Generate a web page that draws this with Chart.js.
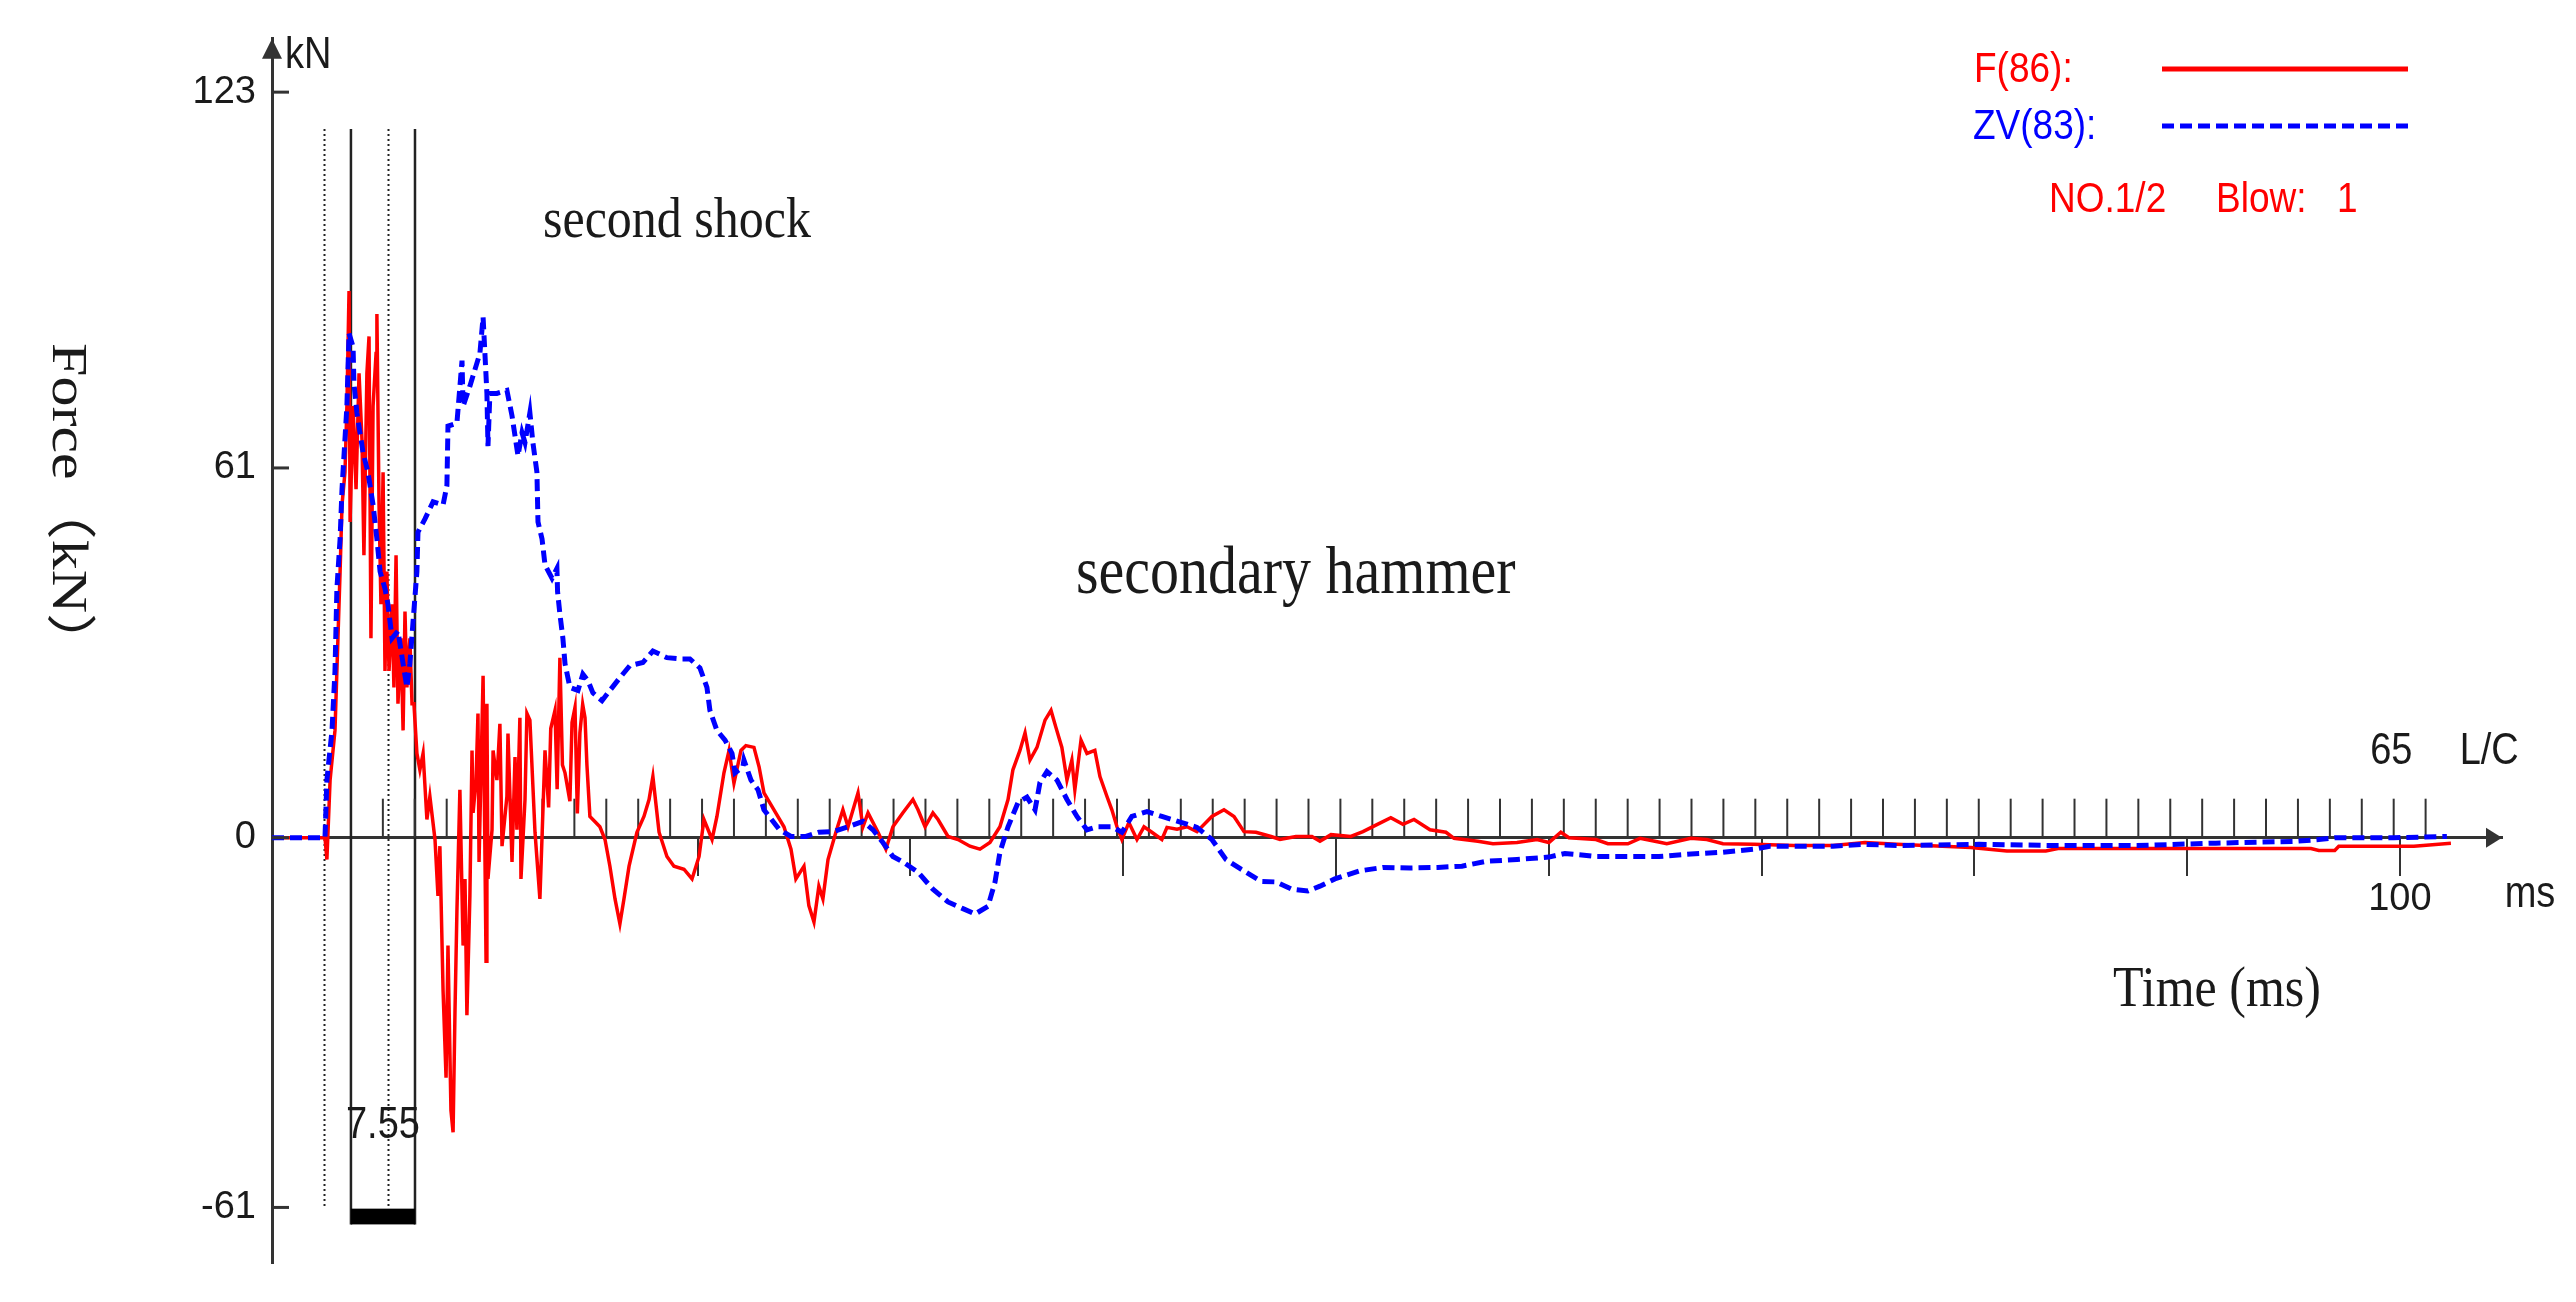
<!DOCTYPE html>
<html>
<head>
<meta charset="utf-8">
<title>Force record</title>
<script src="https://cdn.jsdelivr.net/npm/chart.js@4.4.1/dist/chart.umd.min.js"></script>
<style>
    html, body { margin: 0; padding: 0; background: #ffffff; }
    #wrap { width: 2576px; height: 1302px; position: relative; }
</style>
</head>
<body>
<div id="wrap"><canvas id="forceChart"></canvas></div>
<script>
// F trace (red): time in ms, force in kN
const fTime = [0, 2.49, 2.58, 2.73, 2.96, 3.10, 3.20, 3.29, 3.43, 3.52, 3.62, 3.67, 3.81, 3.95, 4.09, 4.23, 4.32, 4.46, 4.56, 4.65,
    4.75, 4.89, 4.93, 5.03, 5.12, 5.22, 5.31, 5.40, 5.50, 5.64, 5.73, 5.83, 5.92, 6.06, 6.16, 6.25, 6.34, 6.48, 6.58, 6.67,
    6.81, 6.95, 7.10, 7.28, 7.42, 7.66, 7.80, 7.89, 8.04, 8.18, 8.27, 8.41, 8.51, 8.60, 8.69, 8.83, 8.98, 9.07, 9.16, 9.30,
    9.40, 9.45, 9.59, 9.68, 9.73, 9.92, 10.06, 10.10, 10.15, 10.34, 10.39, 10.57, 10.71, 10.81, 11.04, 11.09, 11.28, 11.42, 11.51, 11.65,
    11.70, 11.89, 11.98, 12.12, 12.36, 12.59, 12.83, 13.00, 13.10, 13.30, 13.40, 13.53, 13.65, 13.77, 14.00, 14.10, 14.24, 14.35, 14.47, 14.60,
    14.71, 14.80, 14.94, 15.41, 15.65, 15.88, 16.12, 16.35, 16.54, 16.78, 17.15, 17.48, 17.72, 17.90, 18.19, 18.56, 18.89, 19.36, 19.74, 20.07,
    20.30, 20.68, 20.91, 21.24, 21.48, 21.71, 22.04, 22.27, 22.65, 22.89, 23.12, 23.59, 24.06, 24.39, 24.62, 25.00, 25.23, 25.47, 25.70, 25.89,
    26.13, 26.50, 26.83, 27.07, 27.54, 27.77, 28.01, 28.48, 28.85, 29.18, 29.65, 30.12, 30.36, 30.69, 31.06, 31.30, 31.77, 32.24, 32.80, 33.27,
    33.74, 34.21, 34.59, 34.82, 35.15, 35.39, 35.62, 35.95, 36.33, 36.61, 36.84, 37.12, 37.36, 37.59, 37.73, 38.02, 38.30, 38.67, 38.91, 39.24,
    39.47, 39.71, 39.94, 40.27, 40.65, 40.98, 41.35, 41.82, 42.06, 42.53, 43.00, 43.47, 44.17, 44.74, 45.21, 45.68, 46.24, 46.95, 47.37, 48.12,
    48.87, 49.25, 49.77, 50.70, 51.27, 51.83, 52.58, 53.15, 53.67, 54.42, 55.17, 55.55, 56.67, 57.38, 58.51, 59.45, 60.01, 60.57, 60.95, 62.22,
    62.78, 63.72, 64.29, 64.99, 65.55, 66.68, 67.43, 68.19, 69.64, 71.52, 73.36, 74.86, 76.36, 79.84, 81.53, 83.36, 83.93, 87.64, 95.82, 96.19,
    96.94, 97.13, 100.66, 102.40];
const fForce = [0, 0, -3.6, 9.5, 17.7, 33.0, 43.9, 54.9, 60.3, 71.2, 90.2, 52.1, 71.2, 57.5, 76.6, 65.6, 46.6, 76.6, 82.7, 32.9,
    71.2, 79.9, 86.4, 54.9, 38.5, 60.3, 27.5, 43.9, 27.5, 38.5, 24.8, 46.6, 22.1, 32.9, 17.7, 37.3, 24.8, 32.9, 22.1, 22.1,
    13.9, 11.2, 13.9, 3.0, 6.8, -0.3, -9.6, -1.4, -25.3, -39.6, -17.8, -45.0, -48.6, -28.6, -12.2, 7.9, -17.8, -6.8, -29.3, -9.6,
    14.4, 4.1, 9.5, 20.5, -4.0, 26.7, -20.4, 22.1, -6.8, 1.3, 14.4, 9.5, 18.8, -1.4, 6.8, 17.2, -4.0, 13.3, 1.3, 19.8,
    -6.8, 6.3, 20.5, 19.4, 0.9, -10.1, 14.4, 5.0, 18.0, 21.0, 8.0, 29.7, 12.0, 10.7, 6.0, 19.0, 21.5, 4.0, 17.3, 22.0,
    19.8, 12.0, 3.5, 1.8, -0.3, -4.7, -10.1, -14.2, -10.1, -4.7, 0.9, 3.5, 6.3, 10.1, 0.9, -3.1, -4.7, -5.2, -6.8, -3.1,
    3.0, -0.3, 3.5, 10.7, 14.4, 9.0, 14.4, 15.2, 14.9, 11.7, 7.4, 4.6, 1.8, -1.9, -6.8, -4.7, -11.2, -13.9, -8.0, -10.1,
    -3.6, 0.9, 4.6, 1.8, 7.4, 1.8, 4.1, 0.9, -1.9, 1.8, 4.1, 6.3, 4.6, 1.8, 4.1, 3.0, 0.2, -0.3, -1.4, -1.9,
    -0.8, 1.8, 6.3, 11.2, 14.4, 17.3, 12.8, 14.9, 19.4, 21.0, 18.2, 14.9, 9.5, 12.8, 7.9, 16.1, 13.9, 14.4, 10.1, 6.8,
    4.6, 1.8, -0.3, 2.5, -0.3, 1.8, 0.9, -0.3, 1.7, 1.4, 1.8, 1.0, 3.5, 4.6, 3.5, 1.0, 0.9, 0.2, -0.3, 0.2,
    0.2, -0.6, 0.5, 0.2, 1.0, 2.0, 3.3, 2.2, 3.0, 1.3, 0.9, -0.1, -0.6, -1.0, -0.8, -0.3, -0.8, 0.9, 0, -0.3,
    -1.0, -1.0, -0.1, -0.6, -1.0, -0.1, -0.3, -1.0, -1.1, -1.3, -1.3, -0.8, -1.1, -1.6, -2.2, -2.2, -1.8, -1.8, -1.8, -2.1,
    -2.1, -1.4, -1.4, -0.9];

// ZV trace (blue, dashed): time in ms, velocity times impedance in kN
const zvTime = [0, 2.49, 2.58, 2.82, 2.96, 3.05, 3.20, 3.29, 3.52, 3.62, 3.81, 3.85, 3.99, 4.28, 4.51, 4.75, 4.93, 5.08, 5.31, 5.45,
    5.64, 5.92, 6.16, 6.34, 6.48, 6.63, 6.81, 6.86, 7.19, 7.57, 8.04, 8.22, 8.27, 8.69, 8.93, 8.98, 9.30, 9.77, 9.92, 10.10,
    10.15, 10.24, 10.57, 11.04, 11.28, 11.56, 11.75, 11.89, 12.12, 12.26, 12.45, 12.50, 12.69, 12.83, 13.16, 13.39, 13.42, 13.53, 13.67, 13.77,
    14.00, 14.38, 14.61, 14.85, 15.08, 15.51, 15.88, 16.35, 16.82, 17.43, 17.90, 18.56, 19.17, 19.64, 20.11, 20.44, 20.58, 20.91, 21.29, 21.62,
    21.76, 22.13, 22.18, 22.51, 22.84, 23.12, 23.83, 24.39, 25.09, 25.70, 26.36, 27.07, 27.77, 28.24, 28.71, 29.18, 29.65, 30.36, 31.06, 31.77,
    32.47, 33.04, 33.65, 33.98, 34.21, 34.59, 35.06, 35.48, 35.86, 36.09, 36.42, 36.89, 37.36, 37.83, 38.30, 38.77, 39.47, 39.94, 40.41, 41.12,
    41.82, 42.76, 43.47, 44.17, 44.83, 45.54, 46.48, 47.18, 47.93, 48.68, 49.25, 49.95, 51.08, 52.21, 53.48, 54.79, 55.92, 57.05, 58.51, 60.01,
    60.76, 62.22, 65.18, 66.68, 68.19, 69.64, 70.39, 73.36, 74.86, 76.50, 80.22, 83.93, 87.64, 91.35, 95.07, 96.19, 96.94, 99.72, 102.21];
const zvForce = [0, 0, 9.5, 17.7, 27.5, 41.1, 49.3, 57.5, 71.2, 83.2, 81.0, 75.0, 70.1, 63.5, 60.3, 54.9, 49.3, 43.9, 41.1, 38.5,
    32.9, 34.1, 28.7, 24.8, 28.7, 35.7, 43.9, 50.4, 52.6, 55.4, 54.9, 58.1, 67.9, 68.4, 78.7, 71.2, 74.5, 79.9, 85.9, 73.3,
    64.6, 73.3, 73.3, 73.8, 69.6, 63.0, 66.8, 65.2, 70.1, 65.2, 60.3, 52.1, 49.3, 45.0, 42.8, 44.4, 40.6, 36.9, 32.9, 28.7,
    24.8, 24.3, 27.0, 25.9, 23.9, 22.6, 24.3, 26.4, 28.4, 28.9, 30.8, 29.7, 29.5, 29.5, 28.0, 24.8, 21.0, 17.7, 16.1, 13.9,
    10.7, 11.7, 12.8, 9.5, 7.9, 4.6, 1.4, 0.2, 0.2, 0.9, 1.0, 1.8, 2.7, 1.3, -0.8, -3.1, -4.0, -5.7, -8.5, -10.6,
    -11.7, -12.6, -11.3, -7.3, -2.4, 1.8, 5.8, 6.7, 4.6, 9.1, 10.9, 9.5, 6.3, 3.5, 1.3, 1.8, 1.8, 0.9, 3.5, 4.3,
    3.5, 2.5, 1.7, -0.3, -3.6, -5.2, -7.2, -7.3, -8.5, -8.8, -8.0, -6.8, -5.5, -4.9, -5.0, -4.9, -4.7, -3.9, -3.6, -3.2,
    -2.6, -3.1, -3.1, -2.7, -2.4, -1.9, -1.4, -1.4, -1.1, -1.3, -1.1, -1.3, -1.3, -0.9, -0.6, -0.3, 0, 0, 0.2];

// Axis ticks
const forceTicks = [-61, 0, 61, 123];
const msTicks = [10, 20, 30, 40, 50, 60, 70, 80, 90, 100];
const msLabels = ['', '', '', '', '', '', '', '', '', '100'];

// L/C tick marks above the time axis
const lcStart = 3.71;
const lcStep = 1.5;
const lcCount = 65;

// Marker lines near impact
const dottedMarks = [2.44, 5.45];
const solidMarks = [3.71, 6.72];
const markTop = 116.9;
const dottedBottom = -61.2;
const solidBottom = -63.8;

const sans = '"Liberation Sans", Arial, sans-serif';
const serif = '"Liberation Serif", "Times New Roman", "Noto Sans CJK SC", serif';
const axisColor = '#333333';
const textColor = '#1a1a1a';
// the source picture is a little taller than wide, so text is stretched
const stretch = 1.15;

function toPoints(xs, ys) {
    return xs.map((t, i) => ({ x: t, y: ys[i] }));
}

function drawText(ctx, str, x, y, font, color, align) {
    ctx.save();
    ctx.translate(x, y);
    ctx.scale(1, stretch);
    ctx.font = font;
    ctx.fillStyle = color;
    ctx.textAlign = align || 'left';
    ctx.textBaseline = 'middle';
    ctx.fillText(str, 0, 0);
    ctx.restore();
}

function barX(x, i) {
    return x.getPixelForValue(solidMarks[i]);
}

// Marker lines, L/C ticks, arrows and the free text
const decor = {
    id: 'decor',
    beforeDatasetsDraw(chart) {
        const { ctx, scales: { x, y } } = chart;
        ctx.save();

        ctx.strokeStyle = '#222222';
        ctx.lineWidth = 2;
        ctx.setLineDash([2, 3]);
        dottedMarks.forEach(t => {
            const px = Math.round(x.getPixelForValue(t)) + 0.5;
            ctx.beginPath();
            ctx.moveTo(px, y.getPixelForValue(markTop));
            ctx.lineTo(px, y.getPixelForValue(dottedBottom));
            ctx.stroke();
        });

        ctx.setLineDash([]);
        ctx.lineWidth = 2.5;
        solidMarks.forEach(t => {
            const px = x.getPixelForValue(t);
            ctx.beginPath();
            ctx.moveTo(px, y.getPixelForValue(markTop));
            ctx.lineTo(px, y.getPixelForValue(solidBottom));
            ctx.stroke();
        });

        // black bar between the solid lines
        const by0 = y.getPixelForValue(dottedBottom);
        const by1 = y.getPixelForValue(solidBottom);
        ctx.fillStyle = '#000000';
        ctx.fillRect(barX(x, 0), by0, barX(x, 1) - barX(x, 0), by1 - by0);

        // L/C ticks
        const y0 = y.getPixelForValue(0);
        ctx.strokeStyle = axisColor;
        ctx.lineWidth = 2;
        for (let k = 1; k <= lcCount; k++) {
            const px = x.getPixelForValue(lcStart + k * lcStep);
            ctx.beginPath();
            ctx.moveTo(px, y0);
            ctx.lineTo(px, y0 - 39);
            ctx.stroke();
        }
        ctx.restore();
    },
    afterDraw(chart) {
        const { ctx, chartArea, scales: { x, y } } = chart;
        ctx.save();

        // y axis tick marks drawn inward
        ctx.strokeStyle = axisColor;
        ctx.lineWidth = 3;
        forceTicks.forEach(v => {
            const py = y.getPixelForValue(v);
            ctx.beginPath();
            ctx.moveTo(chartArea.left, py);
            ctx.lineTo(chartArea.left + 17, py);
            ctx.stroke();
        });

        // arrow heads
        ctx.fillStyle = axisColor;
        ctx.beginPath();
        ctx.moveTo(chartArea.left, chartArea.top);
        ctx.lineTo(chartArea.left - 10, chartArea.top + 20);
        ctx.lineTo(chartArea.left + 10, chartArea.top + 20);
        ctx.closePath();
        ctx.fill();
        const y0 = y.getPixelForValue(0);
        ctx.beginPath();
        ctx.moveTo(chartArea.right, y0);
        ctx.lineTo(chartArea.right - 16, y0 - 10);
        ctx.lineTo(chartArea.right - 16, y0 + 10);
        ctx.closePath();
        ctx.fill();

        // axis words
        drawText(ctx, 'kN', chartArea.left + 13, 56, '38px ' + sans, textColor);
        drawText(ctx, 'ms', 2530, 895, '38px ' + sans, textColor, 'center');
        drawText(ctx, '65', x.getPixelForValue(99.6), 752, '38px ' + sans, textColor, 'center');
        drawText(ctx, 'L/C', x.getPixelForValue(104.2), 752, '38px ' + sans, textColor, 'center');
        drawText(ctx, '7.55', (barX(x, 0) + barX(x, 1)) / 2, 1126, '38px ' + sans, textColor, 'center');

        // legend
        drawText(ctx, 'F(86):', 1974, 70, '37px ' + sans, '#ff0000');
        drawText(ctx, 'ZV(83):', 1973, 127, '37px ' + sans, '#0000ff');
        ctx.strokeStyle = '#ff0000';
        ctx.lineWidth = 5;
        ctx.beginPath();
        ctx.moveTo(2162, 69);
        ctx.lineTo(2408, 69);
        ctx.stroke();
        ctx.strokeStyle = '#0000ff';
        ctx.setLineDash([12, 6]);
        ctx.beginPath();
        ctx.moveTo(2162, 126);
        ctx.lineTo(2408, 126);
        ctx.stroke();
        ctx.setLineDash([]);
        drawText(ctx, 'NO.1/2', 2049, 200, '37px ' + sans, '#ff0000');
        drawText(ctx, 'Blow:', 2216, 200, '37px ' + sans, '#ff0000');
        drawText(ctx, '1', 2337, 200, '37px ' + sans, '#ff0000');

        // annotations and axis titles
        drawText(ctx, 'second shock', 543, 222, '50px ' + serif, textColor);
        drawText(ctx, 'secondary hammer', 1076, 575, '58px ' + serif, textColor);
        drawText(ctx, 'Time (ms)', 2113, 991, '50px ' + serif, textColor);

        // vertical title, reads top to bottom
        ctx.translate(66, 508);
        ctx.rotate(Math.PI / 2);
        ctx.scale(1.2, 1);
        ctx.font = '50px ' + serif;
        ctx.fillStyle = textColor;
        ctx.textAlign = 'center';
        ctx.textBaseline = 'middle';
        ctx.fillText('Force（kN）', 0, 0);
        ctx.restore();
    }
};

const ctx = document.getElementById('forceChart').getContext('2d');
const forceChart = new Chart(ctx, {
    type: 'line',
    data: {
        datasets: [{
            label: 'ZV(83)',
            data: toPoints(zvTime, zvForce),
            borderColor: '#0000ff',
            borderWidth: 5,
            borderDash: [12, 6],
            pointRadius: 0,
            tension: 0,
            order: 0
        }, {
            label: 'F(86)',
            data: toPoints(fTime, fForce),
            borderColor: '#ff0000',
            borderWidth: 3.5,
            pointRadius: 0,
            tension: 0,
            order: 1
        }]
    },
    options: {
        responsive: true,
        maintainAspectRatio: false,
        animation: false,
        layout: { padding: { left: 0, right: 74, top: 33, bottom: 35 } },
        plugins: {
            legend: { display: false },
            tooltip: { enabled: false }
        },
        scales: {
            x: {
                type: 'linear',
                position: { y: 0 },
                min: 0,
                max: 104.8,
                afterBuildTicks: scale => {
                    scale.ticks = msTicks.map(v => ({ value: v }));
                },
                ticks: {
                    autoSkip: false,
                    maxRotation: 0,
                    padding: 2,
                    color: textColor,
                    font: { family: sans, size: 38 },
                    callback: (value) => msLabels[msTicks.indexOf(value)] || ''
                },
                grid: {
                    drawOnChartArea: false,
                    drawTicks: true,
                    tickLength: 37,
                    color: axisColor,
                    lineWidth: 2
                },
                border: { display: true, color: axisColor, width: 3 }
            },
            y: {
                type: 'linear',
                position: 'left',
                min: -70.2,
                max: 131.8,
                afterFit: scale => { scale.width = 272; },
                afterBuildTicks: scale => {
                    scale.ticks = forceTicks.map(v => ({ value: v }));
                },
                ticks: {
                    padding: 16,
                    color: textColor,
                    font: { family: sans, size: 38 }
                },
                grid: { display: true, drawOnChartArea: false, drawTicks: false },
                border: { display: true, color: axisColor, width: 3 }
            }
        }
    },
    plugins: [decor]
});
</script>
</body>
</html>
